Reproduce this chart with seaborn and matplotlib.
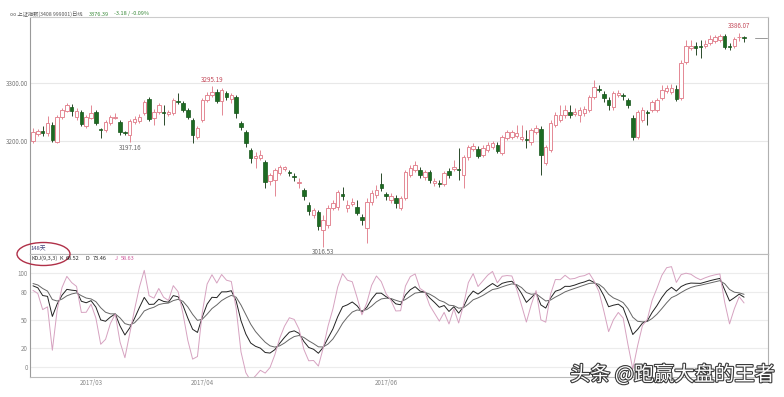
import numpy as np
import pandas as pd
import matplotlib
matplotlib.use('Agg')
import matplotlib.pyplot as plt
import seaborn as sns
from matplotlib.patches import Ellipse
from matplotlib.lines import Line2D
import matplotlib.patheffects as pe

sns.set_theme(style='white')
plt.rcParams['font.family'] = ['Noto Sans CJK SC', 'DejaVu Sans']

# ---------------- data ----------------
opens = [
    3199.5, 3211.6, 3216.8, 3213.3, 3227.1, 3197.8, 3240.9, 3251.2, 3258.1, 3240.9,
    3249.5, 3225.4, 3239.2, 3249.5, 3220.2, 3218.5, 3230.5, 3239.2, 3232.3, 3215.0,
    3209.9, 3232.3, 3234.0, 3247.8, 3271.9, 3239.2, 3249.5, 3249.5, 3246.1, 3247.8,
    3268.5, 3265.0, 3253.0, 3235.7, 3206.4, 3235.7, 3270.2, 3278.8, 3284.0, 3268.5,
    3282.3, 3271.9, 3275.4, 3230.5, 3215.0, 3184.0, 3170.2, 3170.2, 3163.3, 3130.6,
    3132.3, 3144.3, 3151.2, 3146.1, 3139.2, 3127.1, 3115.0, 3089.2, 3071.9, 3077.1,
    3046.1, 3054.7, 3084.0, 3085.7, 3108.1, 3084.0, 3090.9, 3085.7, 3068.5, 3049.5,
    3094.4, 3106.4, 3125.4, 3108.1, 3097.8, 3101.2, 3084.0, 3101.2, 3140.9, 3149.5,
    3149.5, 3137.5, 3146.1, 3127.1, 3127.1, 3125.4, 3147.8, 3151.2, 3151.2, 3140.9,
    3171.9, 3185.7, 3185.7, 3175.4, 3184.0, 3189.2, 3192.6, 3178.8, 3204.7, 3206.4,
    3208.1, 3203.0, 3203.0, 3197.8, 3215.0, 3220.2, 3161.6, 3184.0, 3227.1, 3235.7,
    3244.3, 3249.5, 3246.1, 3244.3, 3247.8, 3253.0, 3275.4, 3289.2, 3280.5, 3270.2,
    3258.1, 3278.8, 3278.8, 3270.2, 3239.2, 3206.4, 3235.7, 3249.5, 3253.0, 3253.0,
    3273.6, 3285.7, 3284.0, 3289.2, 3273.6, 3335.7, 3359.8, 3363.3, 3363.3, 3363.3,
    3368.5, 3372.0, 3374.0, 3380.0, 3364.0, 3364.0, 3378.0, 3378.0]
closes = [
    3215.0, 3216.8, 3213.3, 3230.5, 3201.2, 3240.9, 3253.0, 3261.6, 3251.2, 3251.2,
    3228.8, 3240.9, 3247.8, 3230.5, 3218.5, 3232.3, 3240.9, 3240.9, 3215.0, 3213.3,
    3234.0, 3237.4, 3240.9, 3266.7, 3237.4, 3249.5, 3261.6, 3247.8, 3249.5, 3270.2,
    3266.7, 3253.0, 3240.9, 3209.9, 3221.9, 3270.2, 3278.8, 3284.0, 3268.5, 3287.4,
    3275.4, 3278.8, 3247.8, 3223.7, 3196.1, 3170.2, 3173.7, 3175.4, 3128.8, 3140.9,
    3149.5, 3154.7, 3154.7, 3144.3, 3137.5, 3128.8, 3104.7, 3078.8, 3080.6, 3053.0,
    3063.3, 3084.0, 3092.6, 3111.6, 3104.7, 3089.2, 3094.4, 3075.4, 3063.3, 3094.4,
    3109.9, 3115.0, 3118.5, 3104.7, 3104.7, 3092.6, 3101.2, 3146.1, 3153.0, 3158.1,
    3140.9, 3146.1, 3132.3, 3130.6, 3125.4, 3144.3, 3140.9, 3154.7, 3149.5, 3171.9,
    3189.2, 3190.9, 3173.7, 3187.4, 3192.6, 3196.1, 3182.3, 3206.4, 3215.0, 3215.0,
    3213.3, 3206.4, 3201.2, 3218.5, 3221.9, 3175.4, 3189.2, 3230.5, 3244.3, 3244.3,
    3253.0, 3244.3, 3249.5, 3253.0, 3254.7, 3275.4, 3292.6, 3287.4, 3273.6, 3261.6,
    3282.3, 3282.3, 3277.1, 3261.6, 3206.4, 3249.5, 3253.0, 3247.8, 3266.7, 3270.2,
    3287.4, 3290.9, 3290.9, 3271.9, 3334.0, 3363.3, 3363.3, 3359.8, 3361.6, 3366.7,
    3376.0, 3378.0, 3380.0, 3362.0, 3362.0, 3376.0, 3379.57, 3376.39]
highs = [
    3222, 3220, 3225, 3243, 3232, 3244, 3256, 3265, 3263, 3256,
    3253, 3244, 3262, 3253, 3222, 3236, 3244, 3247.8, 3236, 3217,
    3237, 3243, 3246, 3270, 3275, 3255, 3265, 3261, 3253, 3274,
    3282, 3268, 3256, 3239, 3225, 3274, 3284, 3295.19, 3289, 3291,
    3286, 3282, 3279, 3234, 3218, 3187, 3180.6, 3184, 3166.8, 3144,
    3153, 3158, 3156, 3149.5, 3144, 3135.7, 3118.5, 3094.4, 3084, 3080.6,
    3071.9, 3089, 3097.8, 3115, 3120, 3097.8, 3101, 3097.8, 3074, 3101,
    3115, 3123.7, 3144.3, 3111.6, 3109.9, 3106.4, 3104.7, 3149.5, 3158, 3165,
    3154.7, 3149.5, 3149.5, 3135.7, 3132.3, 3147.8, 3153, 3166.8, 3187.4, 3175.4,
    3192.6, 3196.1, 3190.9, 3192.6, 3197.8, 3199.5, 3197.8, 3209.9, 3218.5, 3218.5,
    3227.1, 3227.1, 3218.5, 3221.9, 3227.1, 3225.4, 3192.6, 3235.7, 3249.5, 3261.6,
    3261.6, 3261.6, 3256.4, 3258.1, 3259.9, 3278.8, 3304.7, 3296.1, 3285.7, 3275.4,
    3285.7, 3287.4, 3282.3, 3273.6, 3244.3, 3253.0, 3258.1, 3253.0, 3270.2, 3273.6,
    3296.1, 3296.1, 3297.8, 3296.1, 3339.2, 3373.6, 3373.6, 3370.2, 3373.6, 3373.6,
    3382, 3383, 3384, 3384, 3368, 3379, 3386.07, 3381]
lows = [
    3196, 3208, 3208, 3208, 3198, 3196, 3237, 3249, 3243, 3236,
    3225, 3222, 3237, 3227, 3204.7, 3215, 3227, 3237, 3210, 3210,
    3197.16, 3229, 3231, 3244, 3234, 3227, 3246, 3227, 3242.6, 3244,
    3263, 3249.5, 3237, 3196, 3203, 3232, 3266.7, 3275, 3265, 3244,
    3270, 3265, 3239, 3218, 3189, 3161.6, 3153, 3166.8, 3118.5, 3123.7,
    3104.7, 3140.9, 3147.8, 3139, 3130.6, 3118.5, 3097.8, 3071.9, 3066.8, 3046.1,
    3016.53, 3049.5, 3080.6, 3080.6, 3097.8, 3077, 3087.5, 3071.9, 3054.7, 3023.7,
    3089, 3101, 3113, 3097.8, 3092.6, 3084, 3080.6, 3097.8, 3137.5, 3146,
    3135.7, 3132.3, 3127, 3121.9, 3120, 3121.9, 3135.7, 3147.8, 3132.3, 3118.5,
    3166.8, 3182, 3170.2, 3171.9, 3180.6, 3185.7, 3178.8, 3175.4, 3201.2, 3203,
    3204.7, 3199.5, 3187.4, 3192.6, 3211.6, 3140.9, 3158.1, 3180.6, 3223.7, 3232.3,
    3239.2, 3239.2, 3242.6, 3232.3, 3242.6, 3249.5, 3271.9, 3284.0, 3266.7, 3253.0,
    3253.0, 3275.4, 3270.2, 3256.4, 3201.2, 3203, 3232.3, 3227.1, 3249.5, 3249.5,
    3270.2, 3282.3, 3280.5, 3268.5, 3270.2, 3332.3, 3356.4, 3347.8, 3342.6, 3359.8,
    3365, 3368, 3370, 3358, 3356, 3360, 3372, 3370]

price_ticks = [3200, 3300]
price_tick_labels = ['3200.00', '3300.00']
kdj_ticks = [0, 20, 50, 80, 100]
date_tick_pos = [12, 35, 73]
date_tick_labels = ['2017/03', '2017/04', '2017/06']
kdj_start_k, kdj_start_d = 93.0, 90.0      # K, D level at the left edge of the reference
kdj_legend_values = [68.52, 73.46, 58.63]  # K, D, J as printed in the reference legend

# ---------------- derived: KDJ(9,3,3) from the candles ----------------
o = np.array(opens); c = np.array(closes); h = np.array(highs); l = np.array(lows)
n = len(c)
K, D, J = [], [], []
k_prev, d_prev = kdj_start_k, kdj_start_d
for i in range(n):
    lo = l[max(0, i - 8):i + 1].min(); hi = h[max(0, i - 8):i + 1].max()
    rsv = (c[i] - lo) / (hi - lo) * 100 if hi > lo else 50
    k_prev = (2 * k_prev + rsv) / 3
    d_prev = (2 * d_prev + k_prev) / 3
    K.append(k_prev); D.append(d_prev); J.append(3 * k_prev - 2 * d_prev)
kdj = pd.DataFrame({'idx': np.tile(np.arange(n), 3),
                    'val': np.concatenate([K, D, J]),
                    'line': ['K'] * n + ['D'] * n + ['J'] * n})

# ---------------- figure ----------------
W, H = 784, 397
fig = plt.figure(figsize=(W / 100, H / 100), dpi=100)
fig.patch.set_facecolor('white')

def rect(x0, y0, x1, y1):
    return [x0 / W, 1 - y1 / H, (x1 - x0) / W, (y1 - y0) / H]

ax = fig.add_axes(rect(30, 17, 768, 254))
ax2 = fig.add_axes(rect(30, 254, 768, 377))

up_col = '#e48894'
dn_col = '#1d6b22'
idx = np.arange(n)
up = c >= o
ax.vlines(idx[up], l[up], h[up], color=up_col, lw=0.7, zorder=1)
ax.vlines(idx[~up], l[~up], h[~up], color='#2a4a2a', lw=0.7, zorder=1)
ax.bar(idx[up], np.maximum(c[up] - o[up], 0.8), bottom=o[up], width=0.72,
       facecolor='white', edgecolor=up_col, linewidth=0.7, zorder=2)
ax.bar(idx[~up], np.maximum(o[~up] - c[~up], 0.8), bottom=c[~up], width=0.72,
       facecolor=dn_col, edgecolor='#17561b', linewidth=0.5, zorder=2)

xlim = (-0.62, 151.95)
ax.set_xlim(*xlim)
ax.set_ylim(3004.7, 3413.3)
for v in price_ticks:
    ax.axhline(v, color='#e8e8e8', lw=0.8, zorder=0)
ax.set_yticks(price_ticks)
ax.set_yticklabels(price_tick_labels)
ax.set_xticks([])
ax.tick_params(axis='y', length=0, pad=1.5, labelsize=4.5, labelcolor='#777777')
for s, col in [('left', '#9a9a9a'), ('top', '#cccccc'), ('right', '#b0b0b0'), ('bottom', '#bbbbbb')]:
    ax.spines[s].set_color(col); ax.spines[s].set_linewidth(0.8)

imax = int(np.argmax(h[:60]))
ax.text(imax, h[imax] + 3, f'{h[imax]:.2f}', color='#c44a5a', fontsize=4.5, ha='center', va='bottom')
ax.text(20, l[20] - 2, f'{l[20]:.2f}', color='#666666', fontsize=4.5, ha='center', va='top')
imin = int(np.argmin(l))
ax.text(imin, l[imin] - 2, f'{l[imin]:.2f}', color='#666666', fontsize=4.5, ha='center', va='top')
itop = int(np.argmax(h))
ax.text(itop, h[itop] + 4, f'{h[itop]:.2f}', color='#c44a5a', fontsize=4.5, ha='center', va='bottom')

# KDJ panel
sns.lineplot(data=kdj, x='idx', y='val', hue='line',
             palette={'K': '#222222', 'D': '#666666', 'J': '#d6a2c0'},
             linewidth=0.7, legend=False, ax=ax2)
ax2.set_xlim(*xlim)
ax2.set_ylim(-10.6, 120.2)
for v in kdj_ticks:
    ax2.axhline(v, color='#ececec', lw=0.8, zorder=0)
ax2.set_yticks(kdj_ticks)
ax2.set_yticklabels([str(v) for v in kdj_ticks])
ax2.set_xticks(date_tick_pos)
ax2.set_xticklabels(date_tick_labels)
ax2.set_xlabel(''); ax2.set_ylabel('')
ax2.tick_params(axis='both', length=0, pad=1.5, labelsize=4.5, labelcolor='#888888')
for s, col in [('left', '#9a9a9a'), ('top', '#bbbbbb'), ('right', '#b0b0b0'), ('bottom', '#bbbbbb')]:
    ax2.spines[s].set_color(col); ax2.spines[s].set_linewidth(0.8)

# header texts
fig.text(10 / W, 1 - 14 / H, 'oo 上证指数(3408 999001)日线', fontsize=3.8, color='#555555', va='center')
fig.text(89 / W, 1 - 14 / H, f'{c[-1]:.2f}', fontsize=4.0, color='#3a8a3a', va='center')
fig.text(114 / W, 1 - 14 / H, f'{c[-1] - c[-2]:.2f} / {(c[-1] / c[-2] - 1) * 100:.2f}%',
         fontsize=4.0, color='#3a8a3a', va='center')

# KDJ legend line
fs = 4.0
fig.text(30 / W, 1 - 249 / H, f'{n}天', fontsize=4.2, color='#44447a', va='center')
yk = 1 - 258.5 / H
kv, dv, jv = kdj_legend_values
fig.text(31 / W, yk, 'KDJ(9,3,3)', fontsize=fs, color='#333333', va='center')
fig.text(59.5 / W, yk, 'K', fontsize=fs, color='#333333', va='center')
fig.text(66 / W, yk, f'{kv:.2f}', fontsize=fs, color='#222222', va='center')
fig.text(86 / W, yk, 'D', fontsize=fs, color='#333333', va='center')
fig.text(93 / W, yk, f'{dv:.2f}', fontsize=fs, color='#222222', va='center')
fig.text(115 / W, yk, 'J', fontsize=fs, color='#cc5599', va='center')
fig.text(121 / W, yk, f'{jv:.2f}', fontsize=fs, color='#cc5599', va='center')

# red ellipse annotation
fig.add_artist(Ellipse((43.5 / W, 1 - 254 / H), 53 / W, 23 / H, transform=fig.transFigure,
                       fill=False, edgecolor='#b03048', linewidth=1.0))

# last price marker on the right
fig.add_artist(Line2D([755 / W, 767 / W], [1 - 38 / H, 1 - 38 / H], color='#999999', lw=0.7,
                      transform=fig.transFigure))

# watermark
fig.text(570 / W, 1 - 375 / H, '头条 @跑赢大盘的王者', fontsize=14.5, color='white', va='center',
         path_effects=[pe.withStroke(linewidth=1.6, foreground='#3a3a3a')])

fig.savefig('out.png', dpi=100, facecolor='white')
